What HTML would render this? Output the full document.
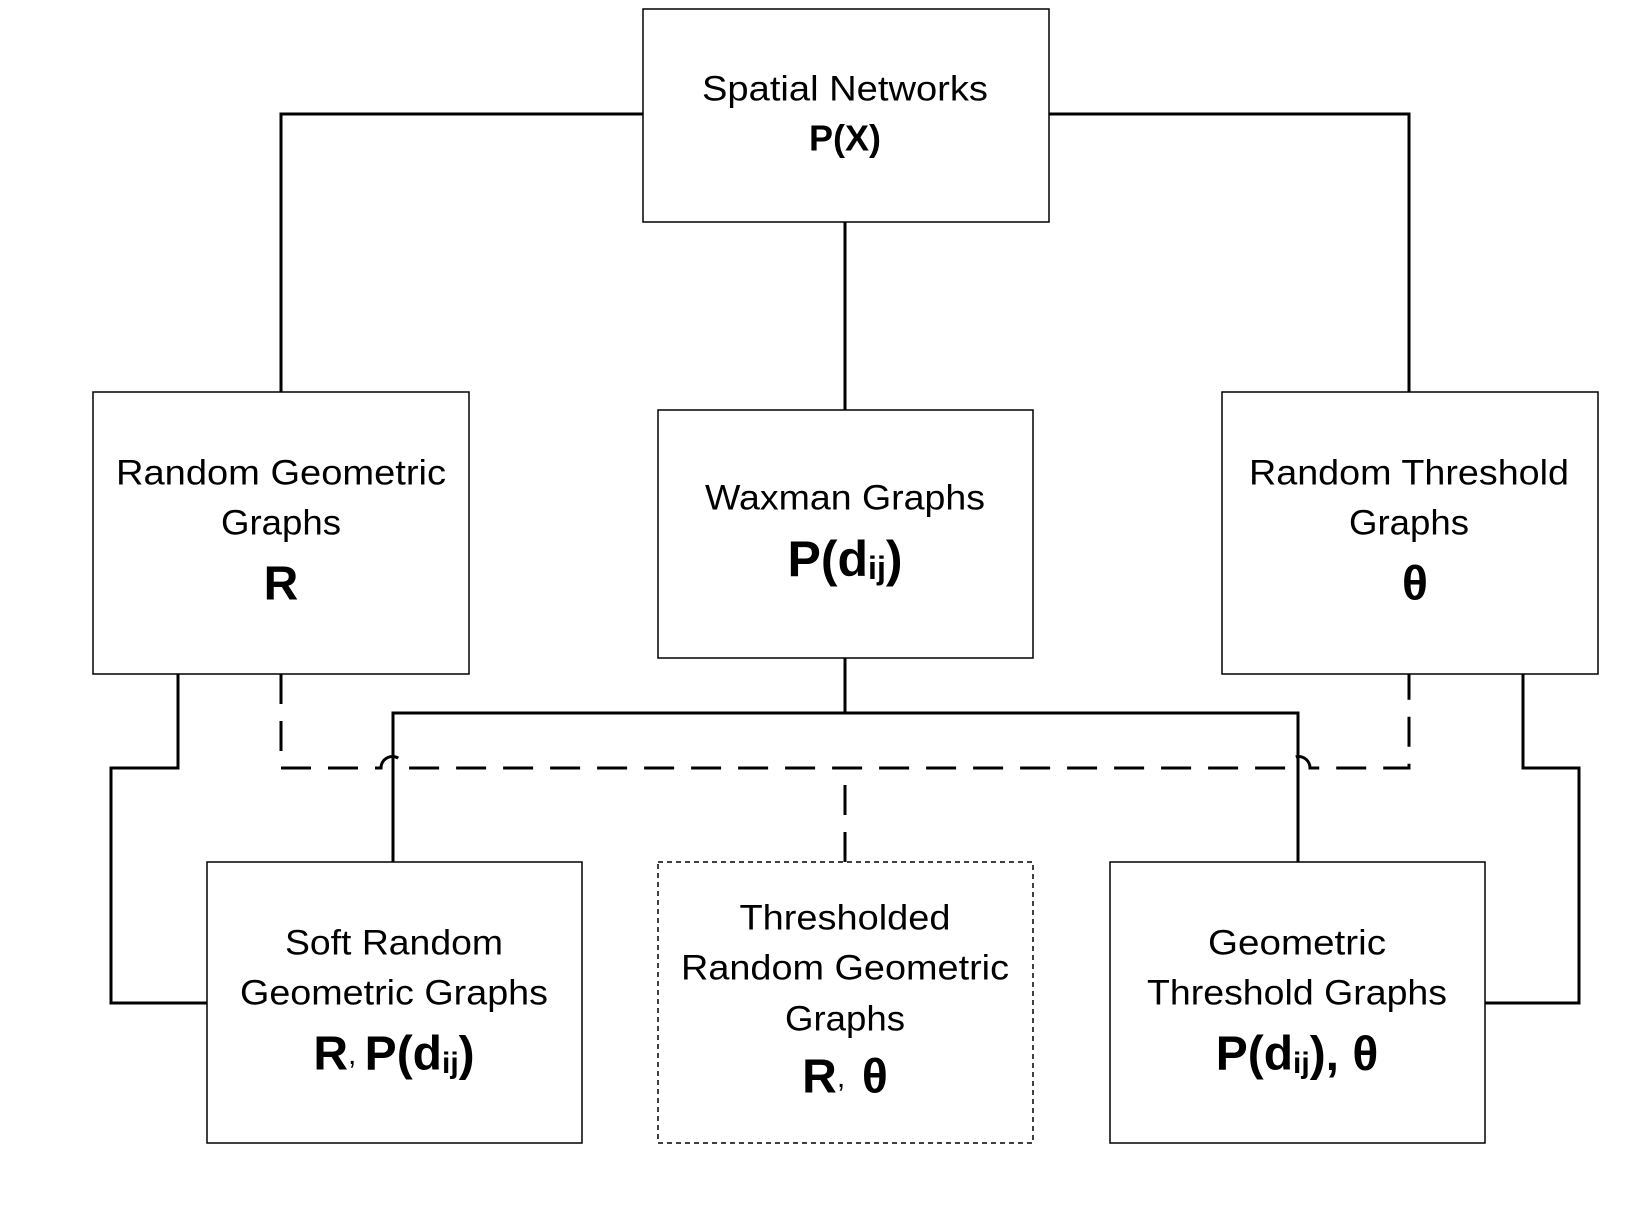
<!DOCTYPE html>
<html><head><meta charset="utf-8"><style>
html,body{margin:0;padding:0;background:#fff}
svg{display:block}
text{font-family:"Liberation Sans",sans-serif;fill:#000;text-anchor:middle;dominant-baseline:central}
.t{font-size:35px}
.b{font-size:48px;font-weight:bold}
</style></head><body>
<svg width="1644" height="1205" viewBox="0 0 1644 1205" xmlns="http://www.w3.org/2000/svg">
<g fill="none" stroke="#000" stroke-width="1.5">
<rect x="643" y="9" width="406" height="213"/>
<rect x="93" y="392" width="376" height="282"/>
<rect x="658" y="410" width="375" height="248"/>
<rect x="1222" y="392" width="376" height="282"/>
<rect x="207" y="862" width="375" height="281"/>
<rect x="1110" y="862" width="375" height="281"/>
<rect x="658" y="862" width="375" height="281" stroke-dasharray="5,4"/>
</g>
<g fill="none" stroke="#000" stroke-width="3">
<path d="M643 114 H281 V392"/>
<path d="M1049 114 H1409 V392"/>
<path d="M845 222 V410"/>
<path d="M845 658 V713"/>
<path d="M393 862 V713 H1298 V862"/>
<path d="M178 674 V768 H111 V1003 H207"/>
<path d="M1523 674 V768 H1579 V1003 H1485"/>
</g>
<g fill="none" stroke="#000" stroke-width="3" stroke-dasharray="30,17">
<path d="M281 674 V768 H381 A11 11 0 0 1 404 768 H1287 A11 11 0 0 1 1310 768 H1409 V674"/>
<path d="M845 862 V768"/>
</g>
<text class="t" x="845" y="89" textLength="286" lengthAdjust="spacingAndGlyphs">Spatial Networks</text>
<text x="845" y="138" style="font-size:36px;font-weight:bold">P(X)</text>

<text class="t" x="281" y="473" textLength="330" lengthAdjust="spacingAndGlyphs">Random Geometric</text>
<text class="t" x="281" y="523" textLength="120" lengthAdjust="spacingAndGlyphs">Graphs</text>
<text class="b" x="281" y="584">R</text>

<text class="t" x="845" y="498" textLength="280" lengthAdjust="spacingAndGlyphs">Waxman Graphs</text>
<text class="b" x="845" y="559" style="font-size:50px">P(d<tspan style="font-size:32px" dy="9">ij</tspan><tspan dy="-9">)</tspan></text>

<text class="t" x="1409" y="473" textLength="320" lengthAdjust="spacingAndGlyphs">Random Threshold</text>
<text class="t" x="1409" y="523" textLength="120" lengthAdjust="spacingAndGlyphs">Graphs</text>
<text class="b" x="1415" y="584">θ</text>

<text class="t" x="394" y="943" textLength="218" lengthAdjust="spacingAndGlyphs">Soft Random</text>
<text class="t" x="394" y="993" textLength="308" lengthAdjust="spacingAndGlyphs">Geometric Graphs</text>
<text class="b" x="394" y="1054">R<tspan style="font-size:30px;font-weight:normal">, </tspan>P(d<tspan style="font-size:30px" dy="9">ij</tspan><tspan dy="-9">)</tspan></text>

<text class="t" x="845" y="918" textLength="211" lengthAdjust="spacingAndGlyphs">Thresholded</text>
<text class="t" x="845" y="968" textLength="328" lengthAdjust="spacingAndGlyphs">Random Geometric</text>
<text class="t" x="845" y="1019" textLength="120" lengthAdjust="spacingAndGlyphs">Graphs</text>
<text class="b" x="845" y="1077" xml:space="preserve">R<tspan style="font-size:30px;font-weight:normal">,  </tspan>θ</text>

<text class="t" x="1297" y="943" textLength="178" lengthAdjust="spacingAndGlyphs">Geometric</text>
<text class="t" x="1297" y="993" textLength="300" lengthAdjust="spacingAndGlyphs">Threshold Graphs</text>
<text class="b" x="1297" y="1054">P(d<tspan style="font-size:30px" dy="9">ij</tspan><tspan dy="-9">), θ</tspan></text>
</svg>
</body></html>
